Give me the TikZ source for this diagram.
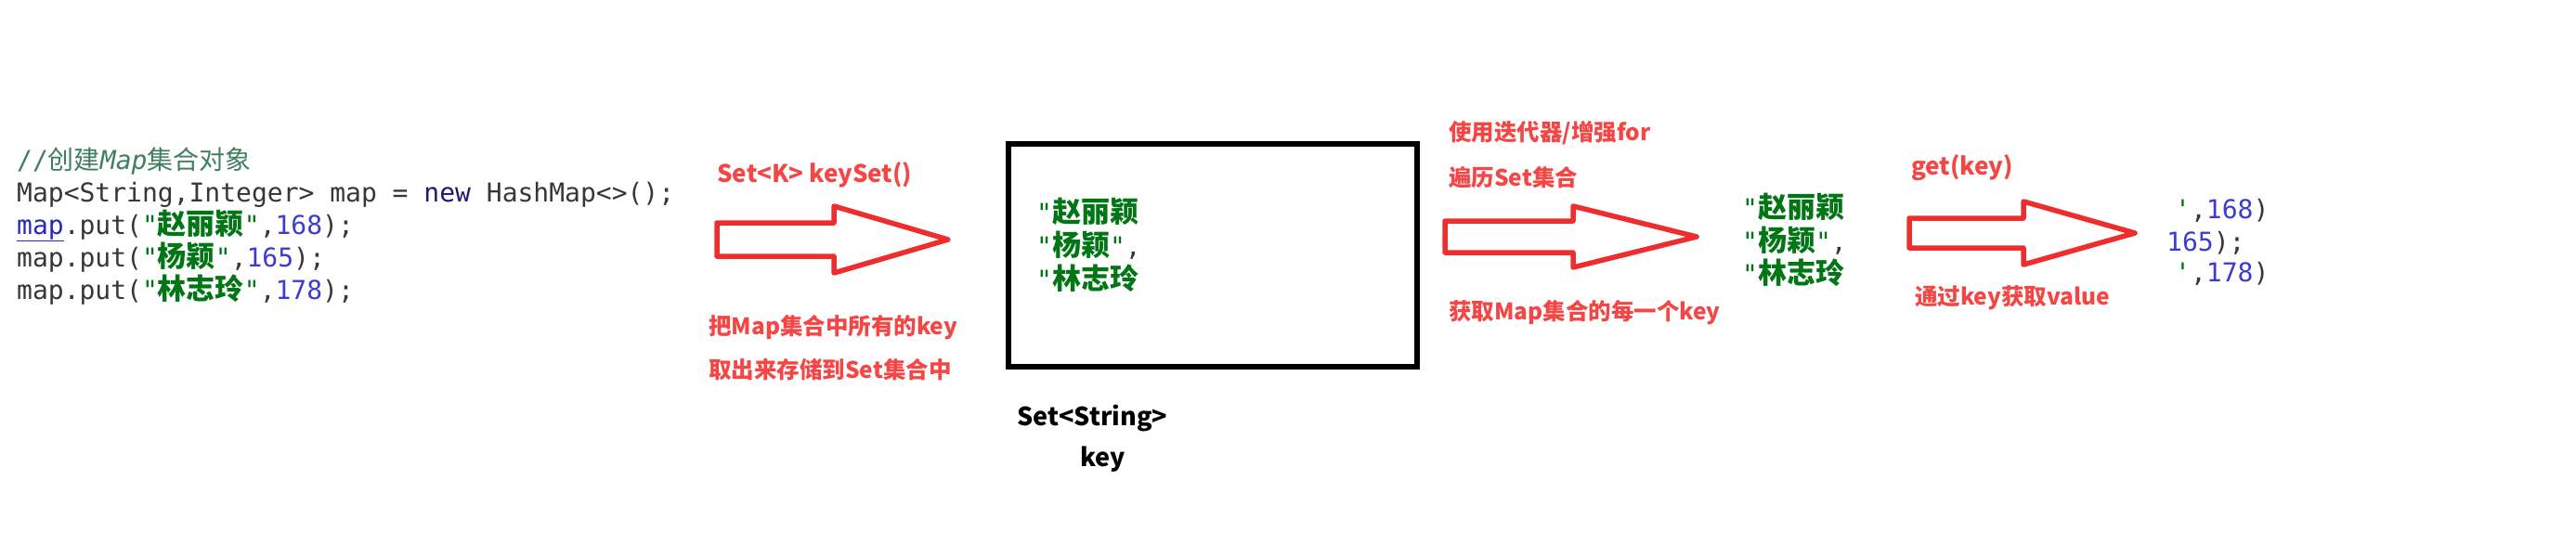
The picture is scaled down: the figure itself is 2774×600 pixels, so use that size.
\documentclass[tikz,border=0pt]{standalone}
\usepackage{fontspec}
\setmonofont{DejaVu Sans Mono}
\newfontfamily\cjk{Noto Sans CJK SC}
\definecolor{cmtgreen}{RGB}{63,127,95}
\definecolor{codegray}{RGB}{55,55,55}
\definecolor{fieldblue}{RGB}{40,40,190}
\definecolor{kwnavy}{RGB}{40,20,120}
\definecolor{strgreen}{RGB}{0,118,20}
\definecolor{numblue}{RGB}{60,60,210}
\definecolor{labelred}{RGB}{245,70,70}
\definecolor{arrowred}{RGB}{240,45,45}
\newcommand\kw[1]{\textcolor{kwnavy}{#1}}
\newcommand\codenum[1]{\textcolor{numblue}{#1}}
\newcommand\qt{\textcolor{strgreen}{"}}
\newcommand\zhstr[1]{\textcolor{strgreen}{{\cjk\bfseries\fontsize{31}{34}\selectfont #1}}}
\newcommand\strlit[1]{\qt\zhstr{#1}\qt}
\begin{document}
\begin{tikzpicture}[x=1pt,y=-1pt,
      codeline/.style={anchor=base west, inner sep=0pt, text=codegray, font=\ttfamily\fontsize{28}{34}\selectfont},
      redlabel/.style={anchor=base west, inner sep=0pt, text=labelred, font=\cjk\bfseries\fontsize{24.5}{28}\selectfont},
      redtitle/.style={redlabel, font=\cjk\bfseries\fontsize{26}{30}\selectfont},
      blacklabel/.style={anchor=base west, inner sep=0pt, text=black, font=\cjk\bfseries\fontsize{27}{30}\selectfont},
      setbox/.style={rectangle, draw=black, line width=6pt, minimum width=440pt, minimum height=240pt, inner sep=0pt},
      fatarrow/.style={draw=arrowred, line width=5.5pt, line join=round, fill=white}]

\fill[white] (0,0) rectangle (2774,600);

\node[codeline] (c0) at (18,182) {\textcolor{cmtgreen}{//{\cjk 创建}\textit{Map}{\cjk 集合对象}}};
\node[codeline] (c1) at (18,217) {Map<String,Integer> map = \kw{new} HashMap<>();};
\node[codeline] (c2) at (18,252) {\textcolor{fieldblue}{\underline{map}}.put(\strlit{赵丽颖},\codenum{168});};
\node[codeline] (c3) at (18,287) {map.put(\strlit{杨颖},\codenum{165});};
\node[codeline] (c4) at (18,322) {map.put(\strlit{林志玲},\codenum{178});};

\node[redtitle] (keyset) at (772,196) {Set<K> keySet()};
\node[redlabel] (keyset1) at (763,360) {把Map集合中所有的key};
\node[redlabel] (keyset2) at (763,407) {取出来存储到Set集合中};
\coordinate (tail1) at (772,258);
\draw[fatarrow] (tail1) ++(0,-18) -- ++(126,0) -- ++(0,-18) -- ++(123,36) -- ++(-123,36) -- ++(0,-18) -- ++(-126,0) -- cycle;

\node[setbox] (keys) at (1306,275) {};
\node[codeline] (k1) at (1116,239) {\qt\zhstr{赵丽颖}};
\node[codeline] (k2) at (1116,275) {\strlit{杨颖},};
\node[codeline] (k3) at (1116,311) {\qt\zhstr{林志玲}};
\node[blacklabel] (settype) at (1095,458) {Set<String>};
\node[blacklabel] (setkey) at (1163,502) {key};

\node[redlabel] (iter1) at (1560,151) {使用迭代器/增强for};
\node[redlabel] (iter2) at (1560,200) {遍历Set集合};
\node[redlabel] (iter3) at (1560,344) {获取Map集合的每一个key};
\coordinate (tail2) at (1556,255);
\draw[fatarrow] (tail2) ++(0,-17) -- ++(138,0) -- ++(0,-16) -- ++(133,33) -- ++(-133,33) -- ++(0,-16) -- ++(-138,0) -- cycle;

\node[codeline] (e1) at (1876,234) {\qt\zhstr{赵丽颖}};
\node[codeline] (e2) at (1876,270) {\strlit{杨颖},};
\node[codeline] (e3) at (1876,305) {\qt\zhstr{林志玲}};

\node[redtitle] (get) at (2058,188) {get(key)};
\node[redlabel] (get2) at (2062,328) {通过key获取value};
\coordinate (tail3) at (2056,251);
\draw[fatarrow] (tail3) ++(0,-16) -- ++(123,0) -- ++(0,-18) -- ++(120,34) -- ++(-120,34) -- ++(0,-18) -- ++(-123,0) -- cycle;

\node[codeline] (v1) at (2342,235) {\textcolor{strgreen}{'},\codenum{168})};
\node[codeline] (v2) at (2333,270) {\codenum{165});};
\node[codeline] (v3) at (2342,303) {\textcolor{strgreen}{'},\codenum{178})};

\end{tikzpicture}
\end{document}
